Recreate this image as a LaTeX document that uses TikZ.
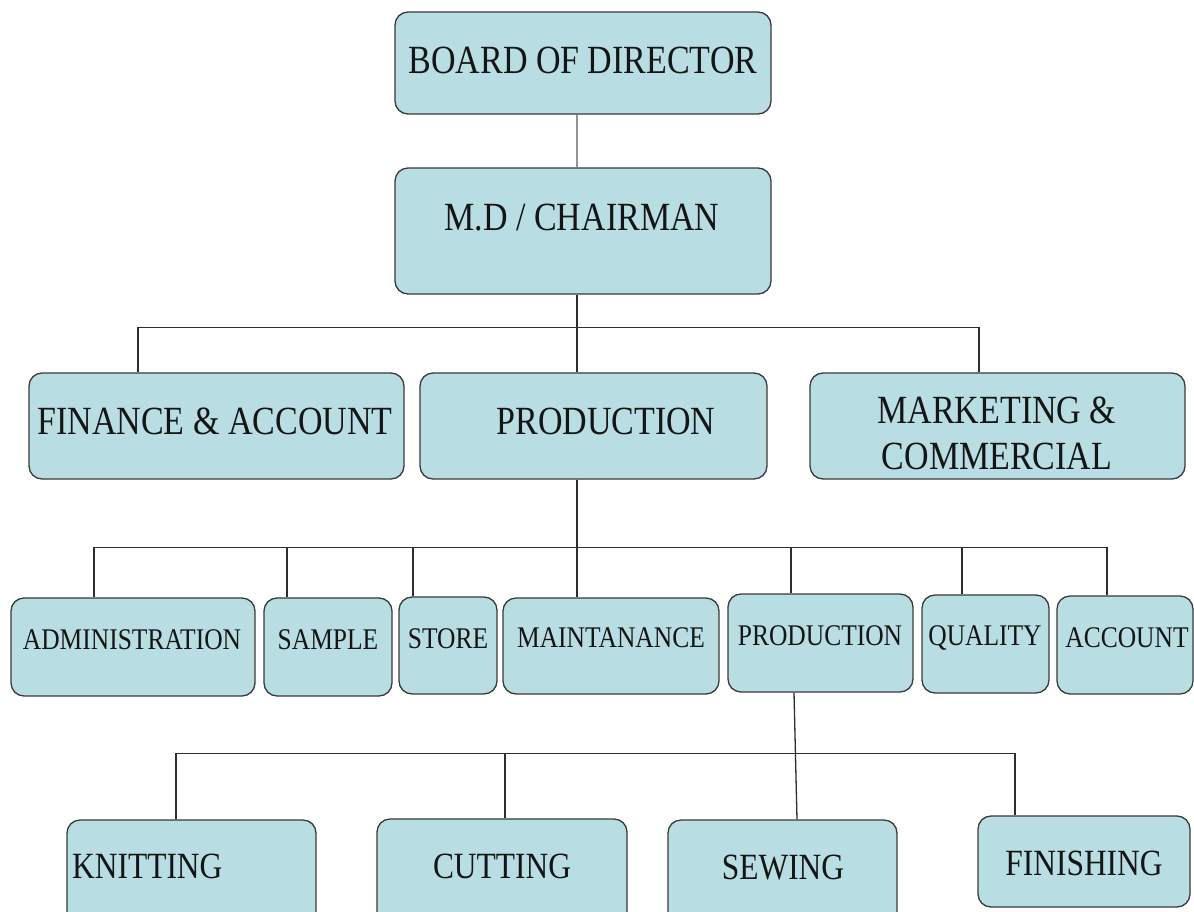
\documentclass[tikz,border=0pt]{standalone}
\usepackage{fontspec}
\setmainfont[FakeStretch=0.85]{Liberation Serif}
\definecolor{boxfill}{HTML}{B8DEE3}
\definecolor{boxline}{HTML}{3A3A3A}
\definecolor{wire}{HTML}{2E2E2E}
\definecolor{txt}{HTML}{151515}
\tikzset{
  orgbox/.style={draw=boxline, line width=1.3pt, fill=boxfill, rounded corners=13pt, inner sep=0pt},
  bigtxt/.style={text=txt, inner sep=0pt, font=\fontsize{40}{46}\selectfont, align=center},
  midtxt/.style={text=txt, inner sep=0pt, font=\fontsize{30}{34}\selectfont},
  lowtxt/.style={text=txt, inner sep=0pt, font=\fontsize{37}{42}\selectfont},
  wireline/.style={draw=wire, line width=1.3pt},
  greywire/.style={draw=gray!85, line width=1.6pt}
}
\begin{document}
\begin{tikzpicture}[x=1pt,y=-1pt]
\useasboundingbox (0,0) rectangle (1194,911);
\clip (0,0) rectangle (1194,911);
\fill[white] (0,0) rectangle (1194,911);
% level 1
\node[orgbox, minimum width=376pt, minimum height=102pt] (board) at (583,63) {};
\node[orgbox, minimum width=376pt, minimum height=126pt] (md) at (583,231) {};
% level 2
\node[orgbox, minimum width=375pt, minimum height=106pt] (fin) at (216.5,426) {};
\node[orgbox, minimum width=347pt, minimum height=106pt] (prod) at (593.5,426) {};
\node[orgbox, minimum width=375pt, minimum height=106pt] (mkt) at (997.5,426) {};
% level 3
\node[orgbox, minimum width=244pt, minimum height=98pt] (admin) at (133,647) {};
\node[orgbox, minimum width=128pt, minimum height=98pt] (sample) at (328,647) {};
\node[orgbox, minimum width=98pt, minimum height=97pt] (store) at (448,645.5) {};
\node[orgbox, minimum width=216pt, minimum height=96pt] (maint) at (611,646) {};
\node[orgbox, minimum width=185pt, minimum height=98pt] (sprod) at (820.5,643) {};
\node[orgbox, minimum width=127pt, minimum height=98pt] (quality) at (985.5,644) {};
\node[orgbox, minimum width=136pt, minimum height=98pt] (account) at (1125,645) {};
% level 4
\node[orgbox, minimum width=249pt, minimum height=120pt] (knit) at (191.5,880) {};
\node[orgbox, minimum width=250pt, minimum height=122pt] (cut) at (502,880) {};
\node[orgbox, minimum width=229pt, minimum height=120pt] (sew) at (782.5,880) {};
\node[orgbox, minimum width=212pt, minimum height=91pt] (finish) at (1084,861.5) {};
% texts
\node[bigtxt] (tboard) at (583,60) {BOARD OF DIRECTOR};
\node[bigtxt] (tmd) at (582,218) {M.D / CHAIRMAN};
\node[bigtxt] (tfin) at (215,421) {FINANCE \& ACCOUNT};
\node[bigtxt] (tprod) at (606,421) {PRODUCTION};
\node[bigtxt] (tmkt) at (997,433) {MARKETING \&\\COMMERCIAL};
\node[midtxt] (tadmin) at (132,640) {ADMINISTRATION};
\node[midtxt] (tsample) at (328,640) {SAMPLE};
\node[midtxt] (tstore) at (448,639) {STORE};
\node[midtxt] (tmaint) at (611,638) {MAINTANANCE};
\node[midtxt] (tsprod) at (820,636) {PRODUCTION};
\node[midtxt] (tquality) at (985,638) {QUALITY};
\node[midtxt] (taccount) at (1127,638) {ACCOUNT};
\node[lowtxt, anchor=west] (tknit) at (72,866) {KNITTING};
\node[lowtxt] (tcut) at (502,866) {CUTTING};
\node[lowtxt] (tsew) at (783,868) {SEWING};
\node[lowtxt] (tfinish) at (1084,863) {FINISHING};
% connectors
\draw[greywire] ([xshift=-6pt]board.south) -- ([xshift=-6pt]md.north);
\draw[wireline] ([xshift=-6pt]md.south) -- ([xshift=-16.5pt]prod.north);
\draw[wireline] ([xshift=-78.5pt]fin.north) -- ++(0,-45) -| ([xshift=-18.5pt]mkt.north);
\draw[wireline] ([xshift=-16.5pt]prod.south) -- ([xshift=-34pt]maint.north);
\draw[wireline] ([xshift=-39pt]admin.north) -- ++(0,-50) -| ([xshift=-18pt]account.north);
\draw[wireline] ([xshift=-41pt]sample.north) -- ++(0,-50);
\draw[wireline] ([xshift=-35pt]store.north) -- ++(0,-49);
\draw[wireline] ([xshift=-29.5pt]sprod.north) -- ++(0,-46);
\draw[wireline] ([xshift=-23.5pt]quality.north) -- ++(0,-47);
\draw[wireline] ([xshift=-26.5pt]sprod.south) -- ([xshift=14.5pt]sew.north);
\draw[wireline] ([xshift=-15.5pt]knit.north) -- ++(0,-66) -| ([xshift=-69pt]finish.north);
\draw[wireline] ([xshift=3pt]cut.north) -- ++(0,-65);
\end{tikzpicture}
\end{document}
